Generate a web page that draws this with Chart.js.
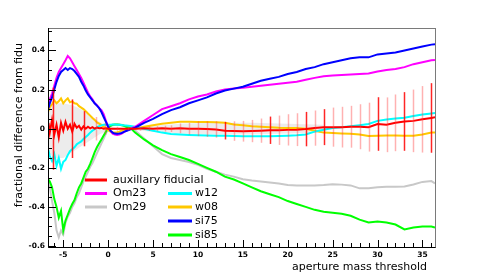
<!DOCTYPE html>
<html>
<head>
<meta charset="utf-8">
<style>
  html, body { margin: 0; padding: 0; background: #fff; }
  #wrap { width: 485px; height: 276px; }
</style>
<script src="https://cdn.jsdelivr.net/npm/chart.js@4.4.1/dist/chart.umd.min.js"></script>
</head>
<body>
<div id="wrap"><canvas id="apChart" width="485" height="276"></canvas></div>
<script>
// ---- data ----
const xs = [-6.65, -6.5, -6.25, -6, -5.75, -5.5, -5.25, -5, -4.75, -4.5, -4.25, -4, -3.75, -3.5, -3.25, -3,
  -2.75, -2.5, -2.25, -2, -1.75, -1.5, -1.25, -1, -0.75, -0.5, -0.25, 0, 0.25, 0.5, 0.75, 1, 1.25, 1.5, 1.75, 2, 2.5,
  3, 4, 5, 6, 7, 8, 9, 10, 11, 12, 13, 14, 15, 16, 17, 18, 19, 20, 21, 22, 23, 24, 25, 26, 27, 28, 29, 30,
  31, 32, 33, 34, 35, 36, 36.4];

const auxFid = [0.03, -0.02, 0.045, -0.03, 0.02, -0.045, 0.03, -0.01, 0.035, 0, 0.02, -0.015, 0.025, 0.005, 0.015, -0.005,
  0.012, 0, 0.01, 0.002, 0.008, 0, 0.006, 0.002, 0.004, 0, 0.002, 0, 0, 0, 0, 0, 0, 0, 0, 0, 0,
  0, 0.002, 0, 0.002, 0, 0.002, 0, 0, -0.002, -0.004, -0.01, -0.012, -0.013, -0.012, -0.01, -0.008, -0.008, -0.006,
  -0.005, -0.002, 0.003, 0.008, 0.008, 0.008, 0.01, 0.01, 0.008, 0.024, 0.02, 0.03, 0.037, 0.04, 0.048, 0.055, 0.058];

const om23 = [0.12, 0.15, 0.18, 0.22, 0.26, 0.29, 0.31, 0.33, 0.35, 0.372, 0.36, 0.34, 0.32, 0.3, 0.28, 0.26,
  0.235, 0.21, 0.185, 0.165, 0.15, 0.13, 0.12, 0.105, 0.095, 0.075, 0.04, 0.01, -0.01, -0.025, -0.03, -0.032, -0.03, -0.025, -0.018, -0.01, 0,
  0.01, 0.04, 0.07, 0.1, 0.115, 0.13, 0.15, 0.165, 0.175, 0.19, 0.2, 0.205, 0.21, 0.215, 0.22, 0.225, 0.23, 0.235,
  0.24, 0.25, 0.26, 0.268, 0.272, 0.275, 0.277, 0.28, 0.282, 0.292, 0.3, 0.305, 0.315, 0.33, 0.34, 0.35, 0.352];

const om29 = [-0.27, -0.3, -0.37, -0.43, -0.52, -0.555, -0.52, -0.54, -0.48, -0.45, -0.43, -0.4, -0.38, -0.35, -0.33, -0.3,
  -0.27, -0.245, -0.22, -0.195, -0.175, -0.15, -0.125, -0.1, -0.075, -0.05, -0.025, 0, 0.012, 0.018, 0.02, 0.022, 0.022, 0.02, 0.017, 0.013, 0.005,
  -0.01, -0.05, -0.09, -0.13, -0.15, -0.16, -0.17, -0.185, -0.205, -0.22, -0.235, -0.245, -0.258, -0.265, -0.27, -0.275, -0.28, -0.288,
  -0.29, -0.29, -0.29, -0.288, -0.284, -0.286, -0.29, -0.305, -0.305, -0.3, -0.297, -0.297, -0.295, -0.285, -0.272, -0.268, -0.28];

const w12 = [-0.11, -0.14, -0.165, -0.13, -0.19, -0.15, -0.205, -0.17, -0.16, -0.135, -0.115, -0.105, -0.095, -0.08, -0.072, -0.065,
  -0.053, -0.042, -0.032, -0.02, -0.01, -0.003, 0.007, 0.013, 0.017, 0.02, 0.021, 0.02, 0.02, 0.021, 0.021, 0.02, 0.02, 0.019, 0.017, 0.016, 0.014,
  0.01, 0, -0.01, -0.02, -0.027, -0.03, -0.032, -0.034, -0.035, -0.036, -0.036, -0.037, -0.038, -0.038, -0.038, -0.038, -0.037, -0.036,
  -0.034, -0.03, -0.015, -0.005, 0.004, 0.008, 0.013, 0.018, 0.024, 0.04, 0.047, 0.052, 0.056, 0.065, 0.073, 0.078, 0.08];

const w08 = [0.09, 0.11, 0.125, 0.145, 0.13, 0.14, 0.155, 0.13, 0.145, 0.155, 0.135, 0.14, 0.13, 0.128, 0.115, 0.108,
  0.1, 0.09, 0.078, 0.067, 0.055, 0.045, 0.032, 0.026, 0.018, 0.01, 0.003, -0.008, -0.015, -0.02, -0.02, -0.018, -0.015, -0.01, -0.006, -0.003, 0,
  0, 0.01, 0.018, 0.025, 0.03, 0.035, 0.035, 0.034, 0.034, 0.033, 0.03, 0.022, 0.018, 0.012, 0.01, 0.008, 0.005, 0.004,
  0.003, 0, -0.01, -0.02, -0.022, -0.024, -0.026, -0.03, -0.037, -0.036, -0.035, -0.035, -0.036, -0.036, -0.03, -0.02, -0.02];

const si75 = [0.105, 0.13, 0.16, 0.2, 0.24, 0.27, 0.29, 0.3, 0.31, 0.3, 0.31, 0.305, 0.295, 0.28, 0.265, 0.24,
  0.22, 0.195, 0.175, 0.16, 0.145, 0.13, 0.118, 0.105, 0.085, 0.06, 0.035, 0.01, -0.01, -0.02, -0.025, -0.026, -0.025, -0.022, -0.016, -0.012, -0.003,
  0.005, 0.03, 0.05, 0.075, 0.095, 0.11, 0.13, 0.145, 0.16, 0.18, 0.195, 0.205, 0.215, 0.23, 0.245, 0.255, 0.265, 0.28,
  0.29, 0.305, 0.315, 0.33, 0.34, 0.35, 0.36, 0.365, 0.365, 0.38, 0.385, 0.39, 0.4, 0.41, 0.42, 0.43, 0.432];

const si85 = [-0.26, -0.27, -0.3, -0.36, -0.4, -0.455, -0.42, -0.52, -0.47, -0.44, -0.41, -0.385, -0.365, -0.33, -0.3, -0.28,
  -0.25, -0.22, -0.205, -0.18, -0.15, -0.12, -0.095, -0.075, -0.055, -0.035, -0.015, 0.005, 0.015, 0.02, 0.022, 0.022, 0.02, 0.018, 0.015, 0.01, 0.003,
  -0.02, -0.055, -0.085, -0.11, -0.13, -0.145, -0.16, -0.18, -0.2, -0.22, -0.245, -0.26, -0.28, -0.3, -0.32, -0.335, -0.35, -0.37,
  -0.385, -0.4, -0.415, -0.425, -0.43, -0.435, -0.445, -0.465, -0.48, -0.475, -0.48, -0.49, -0.515, -0.505, -0.5, -0.5, -0.505];

// grey uncertainty band around the fiducial
const bandX  = [-6.65, -6, -5, -4, -3, -2, -1, 0, 1, 2, 3, 5, 8, 12, 16, 20, 24];
const bandHi = [0.12, 0.13, 0.13, 0.12, 0.1, 0.07, 0.035, 0.01, 0.004, 0.004, 0.008, 0.015, 0.025, 0.03, 0.03, 0.025, 0.02];
const bandLo = [-0.12, -0.15, -0.15, -0.12, -0.09, -0.06, -0.03, -0.01, -0.004, -0.004, -0.008, -0.015, -0.025, -0.03, -0.03, -0.025, -0.02];

// error bars of the fiducial
const errX = [-6.1, -4, -2.7, -1.4, -0.3, 1, 2.2, 3.6, 4.5, 5.4, 6.3, 7, 8, 9, 10, 11, 12, 13, 14, 15, 16, 17, 18, 19, 20,
  21, 22, 23, 24, 25, 26, 27, 28, 29, 30, 31, 32, 33, 34, 35, 36];
const errMid = [0, 0, 0, 0, 0, 0, 0, 0, 0, 0, 0, 0, 0.002, 0, 0, -0.002, -0.004, -0.01, -0.012, -0.013, -0.012, -0.01, -0.008, -0.008, -0.006,
  -0.005, -0.002, 0.003, 0.008, 0.008, 0.008, 0.01, 0.01, 0.008, 0.024, 0.02, 0.03, 0.037, 0.04, 0.048, 0.055];
const errHalf = [0.21, 0.15, 0.09, 0.06, 0.03, 0.01, 0.01, 0.01, 0.012, 0.013, 0.015, 0.017, 0.025, 0.03, 0.038, 0.04, 0.042, 0.045, 0.05, 0.053, 0.057,
  0.062, 0.07, 0.075, 0.08, 0.084, 0.088, 0.09, 0.092, 0.1, 0.104, 0.107, 0.115, 0.125, 0.137, 0.14, 0.145, 0.15, 0.16, 0.17, 0.178];
const errStrong = [-6.1, -4, -2.7, 13, 18, 22, 24, 30, 33, 36];

const xTicks = [-5, 0, 5, 10, 15, 20, 25, 30, 35];
const yTicks = [-0.6, -0.4, -0.2, 0, 0.2, 0.4];
const yTickLabels = ['-0.6', '-0.4', '-0.2', '0', '0.2', '0.4'];

const pts = (xv, yv) => xv.map((x, i) => ({ x: x, y: yv[i] }));

function series(label, vals, color, order) {
  return {
    label: label, data: pts(xs, vals), borderColor: color, backgroundColor: color,
    borderWidth: 2, pointRadius: 0, tension: 0, fill: false, order: order
  };
}

const datasets = [
  series('auxillary fiducial', auxFid, '#ff0000', 0),
  series('Om23', om23, '#ff00ff', 2),
  series('Om29', om29, '#c8c8c8', 6),
  series('w12', w12, '#00ffff', 3),
  series('w08', w08, '#ffc800', 4),
  series('si75', si75, '#0000ff', 1),
  series('si85', si85, '#00ff00', 5),
  { label: 'bandHi', data: pts(bandX, bandHi), borderWidth: 0, pointRadius: 0, fill: '+1',
    backgroundColor: 'rgba(200,200,200,0.35)', order: 10 },
  { label: 'bandLo', data: pts(bandX, bandLo), borderWidth: 0, pointRadius: 0, fill: false, order: 11 }
];

// legend slots (col, row) in ROOT style box
const legendSlots = [[0, 0], [0, 1], [0, 2], [1, 1], [1, 2], [1, 3], [1, 4]];

const frameDeco = {
  id: 'frameDeco',
  afterDatasetsDraw(chart) {
    const { ctx, chartArea: a, scales: { x, y } } = chart;
    ctx.save();
    // error bars
    ctx.lineWidth = 1.5;
    errX.forEach((ex, i) => {
      const px = Math.round(x.getPixelForValue(ex)) + 0.5;
      ctx.strokeStyle = errStrong.includes(ex) ? 'rgba(255,0,0,0.85)' : 'rgba(255,60,60,0.4)';
      ctx.beginPath();
      ctx.moveTo(px, y.getPixelForValue(errMid[i] + errHalf[i]));
      ctx.lineTo(px, y.getPixelForValue(errMid[i] - errHalf[i]));
      ctx.stroke();
    });
    ctx.restore();

    ctx.save();
    ctx.beginPath();
    ctx.rect(a.left, a.top, a.right - a.left, a.bottom - a.top);
    ctx.clip();
    ctx.strokeStyle = '#000';
    ctx.lineWidth = 1;
    // x ticks, minor every 1, major every 5
    for (let v = -6; v <= 36; v++) {
      const px = Math.round(x.getPixelForValue(v)) + 0.5;
      const len = v % 5 === 0 ? 7 : 4;
      ctx.beginPath();
      ctx.moveTo(px, a.bottom);
      ctx.lineTo(px, a.bottom - len);
      ctx.stroke();
    }
    // y ticks, minor every 0.05
    for (let k = -12; k <= 10; k++) {
      const v = k * 0.05;
      const py = Math.round(y.getPixelForValue(v)) + 0.5;
      const len = k % 4 === 0 ? 8 : 4;
      ctx.beginPath();
      ctx.moveTo(a.left, py);
      ctx.lineTo(a.left + len, py);
      ctx.stroke();
    }
    ctx.restore();

    ctx.save();
    ctx.strokeStyle = '#7a7a7a';
    ctx.lineWidth = 1;
    ctx.strokeRect(a.left + 0.5, a.top + 0.5, a.right - a.left, a.bottom - a.top);
    ctx.strokeStyle = '#000';
    ctx.beginPath();
    ctx.moveTo(a.left + 0.5, a.top);
    ctx.lineTo(a.left + 0.5, a.bottom + 0.5);
    ctx.lineTo(a.right + 0.5, a.bottom + 0.5);
    ctx.stroke();
    ctx.restore();
  },
  afterDraw(chart) {
    const ctx = chart.ctx;
    ctx.save();
    ctx.fillStyle = '#000';
    ctx.font = '11px "DejaVu Sans"';
    // axis titles, right aligned like ROOT
    ctx.textAlign = 'right';
    ctx.textBaseline = 'alphabetic';
    ctx.fillText('aperture mass threshold', 427, 270);
    ctx.save();
    ctx.translate(22, 43);
    ctx.rotate(-Math.PI / 2);
    ctx.fillText('fractional difference from fidu', 0, 0);
    ctx.restore();

    // legend
    ctx.textAlign = 'left';
    ctx.textBaseline = 'middle';
    const colX = [[85, 107, 113], [168, 192, 195]];
    const rowY = [180, 193.5, 207, 221, 235];
    chart.data.datasets.slice(0, 7).forEach((ds, i) => {
      const [c, r] = legendSlots[i];
      const yy = rowY[r];
      ctx.strokeStyle = ds.borderColor;
      ctx.lineWidth = 3;
      ctx.beginPath();
      ctx.moveTo(colX[c][0], yy);
      ctx.lineTo(colX[c][1], yy);
      ctx.stroke();
      ctx.fillStyle = '#000';
      ctx.fillText(ds.label, colX[c][2], yy);
    });
    ctx.restore();
  }
};

new Chart(document.getElementById('apChart'), {
  type: 'line',
  data: { datasets: datasets },
  options: {
    responsive: false,
    animation: false,
    devicePixelRatio: 1,
    layout: { padding: { top: 28, right: 50, left: 0, bottom: 0 } },
    plugins: { legend: { display: false }, tooltip: { enabled: false } },
    scales: {
      x: {
        type: 'linear', min: -6.7, max: 36.4,
        grid: { display: false, drawTicks: false },
        border: { display: false },
        afterBuildTicks: s => { s.ticks = xTicks.map(v => ({ value: v })); },
        afterFit: s => { s.height = 29; },
        ticks: {
          padding: 4, autoSkip: false, maxRotation: 0, color: '#000',
          font: { family: 'DejaVu Sans', size: 7.5, weight: 'bold' },
          callback: v => String(v)
        }
      },
      y: {
        type: 'linear', min: -0.605, max: 0.515,
        grid: { display: false, drawTicks: false },
        border: { display: false },
        afterBuildTicks: s => { s.ticks = yTicks.map(v => ({ value: v })); },
        afterFit: s => { s.width = 48; },
        ticks: {
          padding: 3, autoSkip: false, color: '#000',
          font: { family: 'DejaVu Sans', size: 7.5, weight: 'bold' },
          callback: (v, i) => yTickLabels[i]
        }
      }
    }
  },
  plugins: [frameDeco]
});
</script>
</body>
</html>
